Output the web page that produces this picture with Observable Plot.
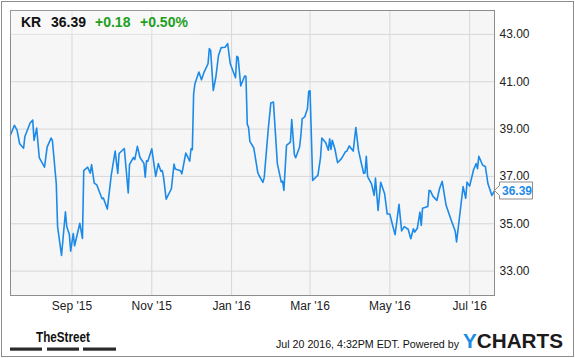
<!DOCTYPE html>
<html>
<head>
<meta charset="utf-8">
<script src="https://cdn.jsdelivr.net/npm/d3@7"></script>
<script src="https://cdn.jsdelivr.net/npm/@observablehq/plot@0.6"></script>
<style>
  html, body { margin: 0; padding: 0; background: #fff; }
  #wrap { position: relative; width: 575px; height: 358px; overflow: hidden; font-family: "Liberation Sans", Arial, sans-serif; }
  #border { position: absolute; left: 1px; top: 1px; width: 573px; height: 356px; box-sizing: border-box; border: 1.5px solid #8c8c8c; pointer-events: none; }
  #chart { position: absolute; left: 0; top: 0; }
  #overlay { position: absolute; left: 0; top: 0; }
</style>
</head>
<body>
<div id="wrap">
  <div id="chart"></div>
  <svg id="overlay" width="575" height="358" font-family="'Liberation Sans', Arial, sans-serif">
    <rect x="10.5" y="10.5" width="189" height="25" fill="#ffffff" fill-opacity="0.25"></rect>
    <text x="21" y="27" font-size="14" font-weight="bold" fill="#111">KR</text>
    <text x="51" y="27" font-size="14" font-weight="bold" fill="#111">36.39</text>
    <text x="95" y="27" font-size="14" font-weight="bold" fill="#1f9e1f">+0.18</text>
    <text x="140" y="27" font-size="14" font-weight="bold" fill="#1f9e1f">+0.50%</text>
    <text x="36" y="342" font-size="15.5" font-weight="bold" fill="#111" textLength="54" lengthAdjust="spacingAndGlyphs">TheStreet</text>
    <rect x="10" y="347.5" width="32" height="3.2" fill="#2a2a2a"></rect>
    <rect x="47" y="347.5" width="32" height="3.2" fill="#2a2a2a"></rect>
    <rect x="83" y="347.5" width="33" height="3.2" fill="#2a2a2a"></rect>
    <text x="276" y="348.3" font-size="10.5" fill="#111" textLength="183" lengthAdjust="spacingAndGlyphs">Jul 20 2016, 4:32PM EDT.  Powered by</text>
    <text x="463" y="348.3" font-size="19.5" font-weight="bold" textLength="100" lengthAdjust="spacingAndGlyphs"><tspan fill="#1a8ce6">Y</tspan><tspan fill="#1b1b1b">CHARTS</tspan></text>
  </svg>
  <div id="border"></div>
</div>
<script>
// ---- data ----
const dates = [
  "2015-07-16","2015-07-19","2015-07-21","2015-07-23","2015-07-26","2015-07-27","2015-07-31",
  "2015-08-02","2015-08-03","2015-08-05","2015-08-07","2015-08-11","2015-08-13","2015-08-16","2015-08-17",
  "2015-08-20","2015-08-21","2015-08-24","2015-08-27","2015-08-28","2015-08-30","2015-08-31",
  "2015-09-02","2015-09-03","2015-09-07","2015-09-09","2015-09-10","2015-09-13","2015-09-15","2015-09-16",
  "2015-09-18","2015-09-20","2015-09-22","2015-09-24","2015-09-25","2015-09-28",
  "2015-10-01","2015-10-04","2015-10-06","2015-10-07","2015-10-11","2015-10-14","2015-10-15","2015-10-18",
  "2015-10-19","2015-10-21","2015-10-23","2015-10-26","2015-10-27","2015-10-28","2015-10-29",
  "2015-11-01","2015-11-04","2015-11-06","2015-11-08","2015-11-09","2015-11-10","2015-11-12","2015-11-16",
  "2015-11-18","2015-11-19","2015-11-23","2015-11-24","2015-11-27","2015-11-30",
  "2015-12-01","2015-12-02","2015-12-03","2015-12-04","2015-12-07","2015-12-09","2015-12-11","2015-12-14",
  "2015-12-15","2015-12-16","2015-12-18","2015-12-20","2015-12-22","2015-12-24","2015-12-27","2015-12-29","2015-12-31",
  "2016-01-04","2016-01-05","2016-01-06","2016-01-08","2016-01-11","2016-01-12","2016-01-13","2016-01-14",
  "2016-01-15","2016-01-18","2016-01-21","2016-01-22","2016-01-25","2016-01-26","2016-01-29","2016-01-31",
  "2016-02-02","2016-02-05","2016-02-08","2016-02-09","2016-02-10","2016-02-12","2016-02-15","2016-02-16",
  "2016-02-18","2016-02-19","2016-02-22","2016-02-23","2016-02-24","2016-02-26","2016-02-28","2016-02-29",
  "2016-03-01","2016-03-03","2016-03-06","2016-03-07","2016-03-09","2016-03-10","2016-03-13","2016-03-15",
  "2016-03-16","2016-03-17","2016-03-18","2016-03-20","2016-03-22","2016-03-25","2016-03-28","2016-03-29","2016-03-31",
  "2016-04-01","2016-04-03","2016-04-05","2016-04-07","2016-04-09","2016-04-11","2016-04-12","2016-04-13",
  "2016-04-14","2016-04-17","2016-04-19","2016-04-20","2016-04-22","2016-04-24","2016-04-27","2016-04-29",
  "2016-05-01","2016-05-03","2016-05-05","2016-05-08","2016-05-10","2016-05-12","2016-05-15","2016-05-17",
  "2016-05-19","2016-05-20","2016-05-22","2016-05-24","2016-05-25","2016-05-26","2016-05-30","2016-05-31",
  "2016-06-01","2016-06-03","2016-06-06","2016-06-08","2016-06-10","2016-06-13","2016-06-17","2016-06-20",
  "2016-06-21","2016-06-26","2016-06-28","2016-06-29",
  "2016-07-01","2016-07-04","2016-07-06","2016-07-07","2016-07-08","2016-07-10","2016-07-11","2016-07-13",
  "2016-07-15","2016-07-18","2016-07-20"
];
const prices = [
  38.75,39.16,38.96,38.38,38.19,38.69,39.26,
  39.38,38.52,39.04,37.79,37.39,38.24,38.62,38.53,
  36.69,34.88,33.66,35.51,34.88,34.55,33.84,
  34.59,34.07,35.02,34.38,37.25,37.39,37.14,37.50,
  36.72,36.64,36.34,36.06,36.09,35.62,
  37.04,38.07,37.13,37.97,38.18,36.30,37.51,37.80,
  37.71,38.27,37.80,37.55,36.97,37.66,37.64,
  38.17,37.00,37.54,37.22,37.25,36.97,36.04,36.48,
  37.52,37.31,37.24,37.11,37.99,37.65,
  38.17,38.13,40.49,40.92,41.41,41.08,41.41,41.76,
  42.40,42.32,40.63,41.20,42.11,42.44,42.46,42.61,41.76,
  41.17,42.07,42.03,40.82,41.24,41.23,39.20,39.07,
  38.48,38.20,37.17,37.04,36.75,36.97,38.97,40.10,
  40.14,37.54,36.76,36.80,36.41,38.31,38.45,39.40,
  37.93,37.79,38.24,38.75,39.44,39.52,39.86,40.60,
  40.62,36.83,37.00,37.04,37.79,38.62,38.42,38.11,
  38.59,38.14,38.53,38.16,37.58,37.75,38.04,38.06,38.29,
  38.21,38.07,39.07,38.11,37.60,37.13,37.15,37.85,
  36.99,36.69,36.20,36.93,35.56,36.75,36.27,35.41,
  35.41,34.96,34.54,35.82,34.70,34.88,34.77,34.37,
  34.79,34.65,34.81,35.49,34.93,35.66,35.73,36.41,
  36.39,36.16,35.99,36.49,36.79,35.78,35.14,34.68,
  34.23,36.57,36.08,36.76,
  36.59,37.28,37.54,37.33,37.85,37.60,37.47,37.42,
  36.69,36.20,36.39
];
const xTickDates = ["2015-09-01","2015-11-01","2016-01-01","2016-03-01","2016-05-01","2016-07-01"];
const xTickLabels = ["Sep '15","Nov '15","Jan '16","Mar '16","May '16","Jul '16"];
const yTicks = [33, 35, 37, 39, 41, 43];
const xDomain = ["2015-07-16", "2016-07-20"];
const yDomain = [31.97, 44.01];
const lastPrice = 36.39;

// ---- build ----
const data = dates.map((d, i) => ({date: new Date(d), price: prices[i]}));
const xTicks = xTickDates.map(d => new Date(d));
const xLabelByTime = new Map(xTicks.map((d, i) => [+d, xTickLabels[i]]));
const lineColor = "#1c8ae8";

function priceTag(index, scales, values, dimensions) {
  const y = Math.round(scales.y(lastPrice)) + 0.5;
  const x0 = dimensions.width - dimensions.marginRight + 0.5;
  const g = d3.create("svg:g");
  g.append("path")
    .attr("d", `M${x0},${y} L${x0 + 5},${y - 5} V${y - 8.5} H${x0 + 38} V${y + 8.5} H${x0 + 5} V${y + 5} Z`)
    .attr("fill", "#fff").attr("stroke", "#8c8c8c");
  g.append("text")
    .attr("x", x0 + 7.5).attr("y", y).attr("dy", "0.36em")
    .attr("text-anchor", "start")
    .attr("fill", lineColor).attr("font-weight", "bold").attr("font-size", 12)
    .text(lastPrice.toFixed(2));
  return g.node();
}

const chart = Plot.plot({
  width: 575,
  height: 358,
  marginLeft: 10,
  marginRight: 81,
  marginTop: 10,
  marginBottom: 63,
  style: {fontFamily: "'Liberation Sans', Arial, sans-serif", fontSize: "12px", color: "#222", background: "transparent", overflow: "visible"},
  x: {type: "utc", domain: xDomain.map(d => new Date(d))},
  y: {domain: yDomain},
  marks: [
    Plot.frame({fill: "#f6f6f6", stroke: "none"}),
    Plot.ruleX(xTicks, {stroke: "#d7d7d7"}),
    Plot.ruleY(yTicks, {stroke: "#d7d7d7"}),
    Plot.line(data, {x: "date", y: "price", stroke: lineColor, strokeWidth: 1.6}),
    Plot.frame({stroke: "#8c8c8c"}),
    Plot.axisX(xTicks, {tickSize: 0, tickPadding: 6, tickFormat: d => xLabelByTime.get(+d), label: null, fill: "#222"}),
    Plot.axisY(yTicks, {anchor: "right", tickSize: 0, tickPadding: 5, tickFormat: d => d.toFixed(2), label: null, fill: "#222"}),
    priceTag
  ]
});
document.getElementById("chart").appendChild(chart);
</script>
</body>
</html>
